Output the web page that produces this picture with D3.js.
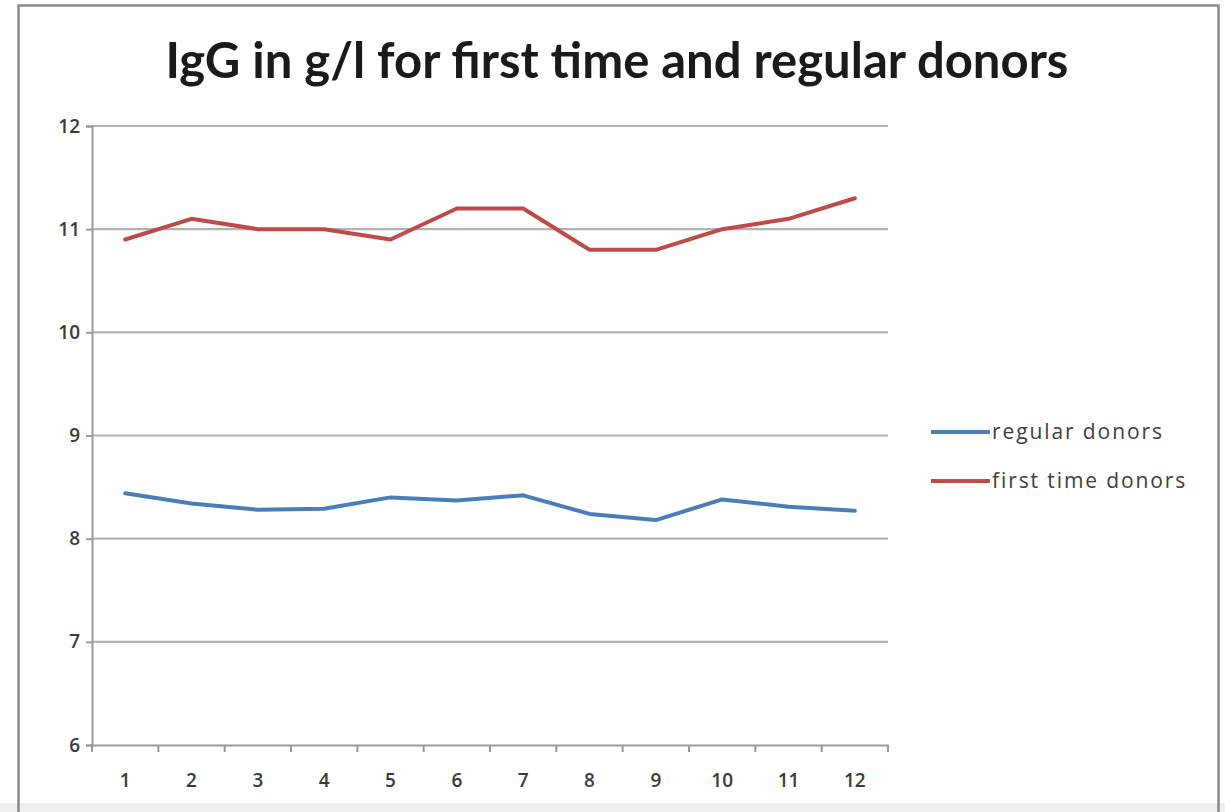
<!DOCTYPE html>
<html>
<head>
<meta charset="utf-8">
<script src="https://cdn.jsdelivr.net/npm/d3@7"></script>
<style>
  html, body { margin: 0; padding: 0; background: #ffffff; }
  svg { display: block; }
</style>
</head>
<body>
<svg id="chart" width="1225" height="812"></svg>
<script>
// IgG concentration (g/l) per sample point
const categories = ["1", "2", "3", "4", "5", "6", "7", "8", "9", "10", "11", "12"];
const regularDonors = [8.44, 8.34, 8.28, 8.29, 8.40, 8.37, 8.42, 8.24, 8.18, 8.38, 8.31, 8.27];
const firstTimeDonors = [10.9, 11.1, 11.0, 11.0, 10.9, 11.2, 11.2, 10.8, 10.8, 11.0, 11.1, 11.3];
const yTicks = [6, 7, 8, 9, 10, 11, 12];
const seriesNames = ["regular donors", "first time donors"];
const seriesColors = ["#4a7ebb", "#be4b48"];
const chartTitle = "IgG in g/l for first time and regular donors";

const svg = d3.select("#chart");
const W = 1225, H = 812;
const plot = { left: 92, right: 888, top: 126, bottom: 745 };
const labelFont = "'Open Sans', sans-serif";

// chart frame
svg.append("rect").attr("x", 0).attr("y", 0).attr("width", W).attr("height", H).attr("fill", "#fff");
svg.append("rect").attr("x", 0).attr("y", 803).attr("width", W).attr("height", 9).attr("fill", "#f0f0f0");
svg.append("rect")
  .attr("x", 18.5).attr("y", 5.5).attr("width", 1200).attr("height", 830)
  .attr("fill", "none").attr("stroke", "#8c8c8c").attr("stroke-width", 2.5);

const x = d3.scaleBand().domain(categories).range([plot.left, plot.right]);
const y = d3.scaleLinear().domain([6, 12]).range([plot.bottom, plot.top]);

// horizontal gridlines
svg.append("g")
  .selectAll("line")
  .data(yTicks.filter(t => t !== 6))
  .join("line")
  .attr("x1", plot.left).attr("x2", plot.right)
  .attr("y1", d => y(d)).attr("y2", d => y(d))
  .attr("stroke", "#b3b3b3").attr("stroke-width", 2.2);

// y axis
const yAxis = svg.append("g")
  .attr("transform", `translate(${plot.left},0)`)
  .call(d3.axisLeft(y).tickValues(yTicks).tickSize(6).tickPadding(6).tickFormat(d3.format("d")));
yAxis.select(".domain").attr("stroke", "#9a9a9a").attr("stroke-width", 2);
yAxis.selectAll(".tick line").attr("stroke", "#9a9a9a").attr("stroke-width", 2);
yAxis.selectAll("text")
  .attr("fill", "#3a3a3a").attr("font-family", labelFont).attr("font-size", 19).attr("font-weight", 600);

// x axis with ticks between categories
const xAxis = svg.append("g")
  .attr("transform", `translate(0,${plot.bottom})`)
  .call(d3.axisBottom(x).tickSize(0).tickPadding(29));
xAxis.select(".domain").attr("stroke", "#9a9a9a").attr("stroke-width", 2.2);
xAxis.selectAll("text")
  .attr("fill", "#3a3a3a").attr("font-family", labelFont).attr("font-size", 19).attr("font-weight", 600);
const boundaries = categories.map(c => x(c)).concat([plot.right]);
xAxis.append("g").selectAll("line")
  .data(boundaries)
  .join("line")
  .attr("x1", d => d).attr("x2", d => d)
  .attr("y1", 0).attr("y2", 7)
  .attr("stroke", "#9a9a9a").attr("stroke-width", 2);

// series lines
const line = d3.line()
  .x((d, i) => x(categories[i]) + x.bandwidth() / 2)
  .y(d => y(d));
[regularDonors, firstTimeDonors].forEach((vals, i) => {
  svg.append("path")
    .datum(vals)
    .attr("d", line)
    .attr("fill", "none")
    .attr("stroke", seriesColors[i])
    .attr("stroke-width", 4)
    .attr("stroke-linejoin", "round")
    .attr("stroke-linecap", "round");
});

// title
svg.append("text")
  .attr("x", 617).attr("y", 78)
  .attr("text-anchor", "middle")
  .attr("font-family", "Lato, 'Open Sans', sans-serif")
  .attr("font-weight", "bold")
  .attr("font-size", 49)
  .attr("fill", "#1a1a1a")
  .text(chartTitle);

// legend
const legend = svg.append("g");
seriesNames.forEach((name, i) => {
  const ly = 432 + i * 49;
  legend.append("line")
    .attr("x1", 931).attr("x2", 990).attr("y1", ly).attr("y2", ly)
    .attr("stroke", seriesColors[i]).attr("stroke-width", 4);
  legend.append("text")
    .attr("x", 992).attr("y", ly + 7)
    .attr("font-family", labelFont)
    .attr("font-size", 21)
    .attr("letter-spacing", 1.9)
    .attr("fill", "#404040")
    .text(name);
});
</script>
</body>
</html>
